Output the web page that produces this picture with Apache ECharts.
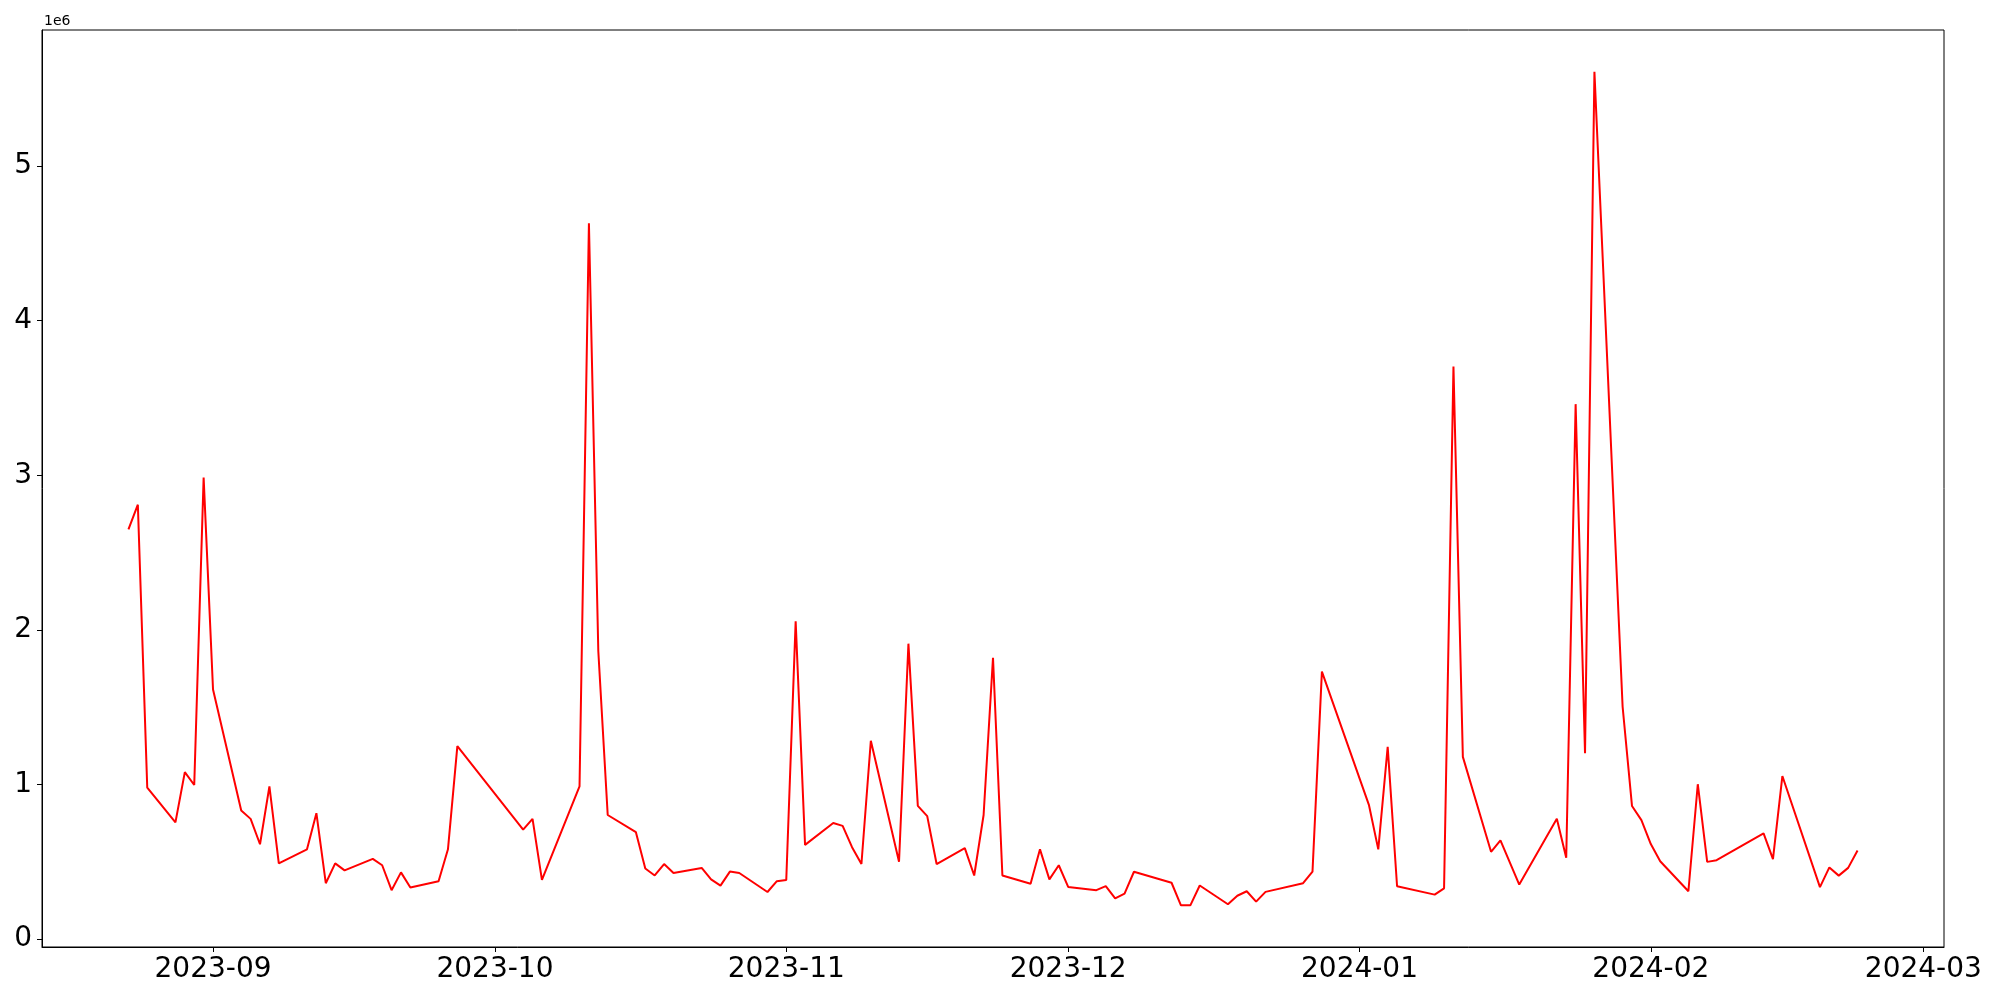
<!DOCTYPE html>
<html>
<head>
<meta charset="utf-8">
<script src="https://cdn.jsdelivr.net/npm/echarts@6/dist/echarts.min.js"></script>
<style>
  html, body { margin: 0; padding: 0; background: #fff; }
  #chart { width: 2000px; height: 1000px; }
</style>
</head>
<body>
<div id="chart"></div>
<script>
// daily values (trading days only, gaps kept)
const dates = [
  "2023-08-23", "2023-08-24", "2023-08-25", "2023-08-28", "2023-08-29", "2023-08-30", "2023-08-31",
  "2023-09-01", "2023-09-04", "2023-09-05", "2023-09-06", "2023-09-07", "2023-09-08",
  "2023-09-11", "2023-09-12", "2023-09-13", "2023-09-14", "2023-09-15",
  "2023-09-18", "2023-09-19", "2023-09-20", "2023-09-21", "2023-09-22",
  "2023-09-25", "2023-09-26", "2023-09-27",
  "2023-10-04", "2023-10-05", "2023-10-06",
  "2023-10-10", "2023-10-11", "2023-10-12", "2023-10-13",
  "2023-10-16", "2023-10-17", "2023-10-18", "2023-10-19", "2023-10-20",
  "2023-10-23", "2023-10-24", "2023-10-25", "2023-10-26", "2023-10-27",
  "2023-10-30", "2023-10-31", "2023-11-01", "2023-11-02", "2023-11-03",
  "2023-11-06", "2023-11-07", "2023-11-08", "2023-11-09", "2023-11-10",
  "2023-11-13", "2023-11-14", "2023-11-15", "2023-11-16", "2023-11-17",
  "2023-11-20", "2023-11-21", "2023-11-22", "2023-11-23", "2023-11-24",
  "2023-11-27", "2023-11-28", "2023-11-29", "2023-11-30", "2023-12-01",
  "2023-12-04", "2023-12-05", "2023-12-06", "2023-12-07", "2023-12-08",
  "2023-12-12", "2023-12-13", "2023-12-14", "2023-12-15",
  "2023-12-18", "2023-12-19", "2023-12-20", "2023-12-21", "2023-12-22",
  "2023-12-26", "2023-12-27", "2023-12-28",
  "2024-01-02", "2024-01-03", "2024-01-04", "2024-01-05",
  "2024-01-09", "2024-01-10", "2024-01-11", "2024-01-12",
  "2024-01-15", "2024-01-16", "2024-01-18",
  "2024-01-22", "2024-01-23", "2024-01-24", "2024-01-25", "2024-01-26",
  "2024-01-29", "2024-01-30", "2024-01-31", "2024-02-01", "2024-02-02",
  "2024-02-05", "2024-02-06", "2024-02-07", "2024-02-08",
  "2024-02-13", "2024-02-14", "2024-02-15",
  "2024-02-19", "2024-02-20", "2024-02-21", "2024-02-22", "2024-02-23"
];

const values = [
  2650000, 2810000, 980000, 755000, 1080000, 997000, 2985000,
  1615000, 832000, 778000, 614000, 988000, 490000,
  581000, 815000, 362000, 490000, 445000,
  519000, 478000, 317000, 432000, 334000,
  375000, 581000, 1248000,
  708000, 778000, 383000,
  988000, 4629000, 1862000, 803000,
  692000, 457000, 412000, 486000, 428000,
  461000, 387000, 346000, 437000, 428000,
  305000, 375000, 383000, 2055000, 610000,
  751000, 733000, 595000, 486000, 1283000,
  501000, 1911000, 862000, 796000, 486000,
  589000, 412000, 803000, 1820000, 412000,
  358000, 581000, 387000, 478000, 338000,
  317000, 343000, 264000, 295000, 436000,
  365000, 219000, 219000, 347000,
  226000, 281000, 310000, 243000, 306000,
  362000, 437000, 1730000,
  869000, 581000, 1244000, 342000,
  288000, 329000, 3703000, 1179000,
  565000, 639000, 353000,
  779000, 526000, 3460000, 1203000, 5610000,
  1503000, 861000, 770000, 615000, 504000,
  310000, 1002000, 500000, 511000,
  684000, 518000, 1055000,
  337000, 464000, 411000, 461000, 574000
];

const monthTicks = ["2023-09-01", "2023-10-01", "2023-11-01", "2023-12-01", "2024-01-01", "2024-02-01", "2024-03-01"];
const yTicks = [0, 1000000, 2000000, 3000000, 4000000, 5000000];

const FONT = "DejaVu Sans";

const toTime = (s) => {
  const [y, m, d] = s.split("-").map(Number);
  return new Date(y, m - 1, d).getTime();
};
const fmtMonth = (t) => {
  const d = new Date(t);
  return d.getFullYear() + "-" + String(d.getMonth() + 1).padStart(2, "0");
};

// matplotlib-style 5% margins around the data
const t0 = toTime(dates[0]);
const t1 = toTime(dates[dates.length - 1]);
const xPad = (t1 - t0) * 0.05;
const vMin = Math.min(...values);
const vMax = Math.max(...values);
const yPad = (vMax - vMin) * 0.05;

const chart = echarts.init(document.getElementById("chart"), null, { renderer: "canvas" });

// x is a plain value axis holding timestamps, so month ticks can be placed exactly
chart.setOption({
  animation: false,
  backgroundColor: "#ffffff",
  grid: {
    left: 42,
    top: 30,
    width: 1902,
    height: 917,
    show: true,
    borderColor: "#000",
    borderWidth: 1,
    containLabel: false
  },
  xAxis: {
    type: "value",
    min: t0 - xPad,
    max: t1 + xPad,
    axisLine: { show: true, onZero: false, lineStyle: { color: "#000", width: 1 } },
    axisTick: {
      show: true,
      length: 5,
      lineStyle: { color: "#000", width: 1 },
      customValues: monthTicks.map(toTime)
    },
    axisLabel: {
      show: true,
      fontFamily: FONT,
      fontSize: 28,
      color: "#000",
      margin: 9,
      customValues: monthTicks.map(toTime),
      formatter: (v) => fmtMonth(v)
    },
    splitLine: { show: false }
  },
  yAxis: {
    type: "value",
    min: vMin - yPad,
    max: vMax + yPad,
    axisLine: { show: true, onZero: false, lineStyle: { color: "#000", width: 1 } },
    axisTick: {
      show: true,
      length: 5,
      lineStyle: { color: "#000", width: 1 },
      customValues: yTicks
    },
    axisLabel: {
      show: true,
      fontFamily: FONT,
      fontSize: 28,
      color: "#000",
      margin: 10,
      customValues: yTicks,
      formatter: (v) => String(Math.round(v / 1e6))
    },
    splitLine: { show: false }
  },
  graphic: [
    {
      type: "text",
      left: 44,
      top: 14,
      style: { text: "1e6", fontFamily: FONT, fontSize: 14, fill: "#000" }
    }
  ],
  series: [
    {
      type: "line",
      data: dates.map((d, i) => [toTime(d), values[i]]),
      showSymbol: false,
      lineStyle: { color: "#ff0000", width: 2 },
      itemStyle: { color: "#ff0000" }
    }
  ]
});
</script>
</body>
</html>
